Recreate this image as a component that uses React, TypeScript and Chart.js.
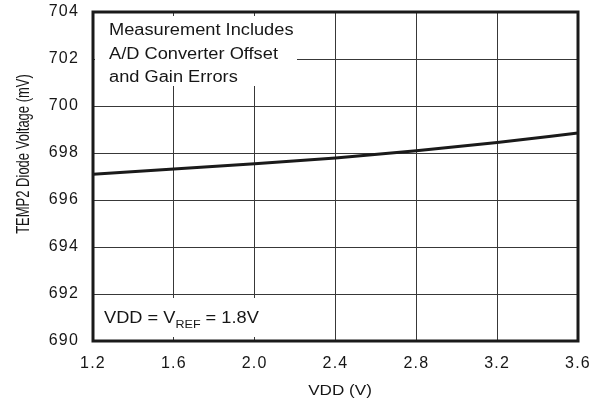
import React, { useEffect, useRef } from "react";
import { Chart, registerables } from "chart.js";

Chart.register(...registerables);

const vdd = [1.2, 1.6, 2.0, 2.4, 2.8, 3.2, 3.6];
const diodeMv = [697.1, 697.32, 697.54, 697.79, 698.1, 698.45, 698.85];
const xRange = [1.2, 3.6];
const xStep = 0.4;
const yRange = [690, 704];
const yStep = 2;
const noteLines = ["Measurement Includes", "A/D Converter Offset", "and Gain Errors"];
const condMain = "VDD = V";
const condSub = "REF";
const condTail = " = 1.8V";
const xTitle = "VDD (V)";
const yTitle = "TEMP2 Diode Voltage (mV)";

const FAMILY = "'Liberation Sans', Arial, Helvetica, sans-serif";
const TEXT = "#161616";
const SX = 1.14;
const TICK_SIZE = 16;

function drawStretched(ctx: CanvasRenderingContext2D, text: string, x: number, y: number, size: number, align: CanvasTextAlign) {
  ctx.save();
  ctx.translate(x, y);
  ctx.scale(SX, 1);
  ctx.font = `${size}px ${FAMILY}`;
  ctx.textAlign = align;
  ctx.textBaseline = "middle";
  ctx.fillStyle = TEXT;
  ctx.fillText(text, 0, 0);
  ctx.restore();
}

const decorPlugin = {
  id: "decor",
  beforeDraw(chart: any) {
    const ctx = chart.ctx as any;
    if ("letterSpacing" in ctx) ctx.letterSpacing = "1.2px";
  },
  beforeDatasetsDraw(chart: any) {
    const ctx = chart.ctx as CanvasRenderingContext2D;
    ctx.save();
    ctx.fillStyle = "#fff";
    ctx.fillRect(95, 16, 202, 70);
    ctx.fillRect(95, 298, 180, 39);
    ctx.restore();
  },
  afterDatasetsDraw(chart: any) {
    const ctx = chart.ctx as any;
    const a = chart.chartArea;
    ctx.save();
    if ("letterSpacing" in ctx) ctx.letterSpacing = "0px";
    ctx.lineWidth = 3;
    ctx.strokeStyle = "#1a1a1a";
    ctx.strokeRect(a.left, a.top, a.right - a.left, a.bottom - a.top);

    noteLines.forEach((t, i) => drawStretched(ctx, t, 109, 31 + i * 23.3, 16, "left"));

    ctx.font = `16px ${FAMILY}`;
    const w1 = ctx.measureText(condMain).width * SX;
    ctx.font = `11px ${FAMILY}`;
    const w2 = ctx.measureText(condSub).width * SX;
    drawStretched(ctx, condMain, 104, 319, 16, "left");
    drawStretched(ctx, condSub, 104 + w1, 325, 11, "left");
    drawStretched(ctx, condTail, 104 + w1 + w2, 319, 16, "left");

    drawStretched(ctx, xTitle, 340, 391, 15, "center");
    ctx.save();
    ctx.translate(24, 154);
    ctx.scale(1.35, 1);
    ctx.rotate(-Math.PI / 2);
    ctx.font = `13px ${FAMILY}`;
    ctx.textAlign = "center";
    ctx.textBaseline = "middle";
    ctx.fillStyle = TEXT;
    ctx.fillText(yTitle, 0, 0);
    ctx.restore();
    ctx.restore();
  },
};

export default function App() {
  const ref = useRef<HTMLCanvasElement>(null);
  useEffect(() => {
    if (!ref.current) return;
    const chart = new Chart(ref.current, {
      type: "line",
      data: {
        datasets: [
          {
            data: vdd.map((x, i) => ({ x, y: diodeMv[i] })),
            borderColor: "#1a1a1a",
            borderWidth: 3,
            pointRadius: 0,
            cubicInterpolationMode: "monotone",
            fill: false,
          },
        ],
      },
      options: {
        animation: false,
        responsive: true,
        maintainAspectRatio: false,
        layout: { padding: { top: 12, right: 23, left: 0, bottom: 0 } },
        plugins: { legend: { display: false }, tooltip: { enabled: false } },
        scales: {
          x: {
            type: "linear",
            min: xRange[0],
            max: xRange[1],
            afterFit: (s: any) => {
              s.height = 63;
              s.paddingLeft = 0;
              s.paddingRight = 0;
            },
            ticks: {
              stepSize: xStep,
              callback: (v: any) => Number(v).toFixed(1),
              font: { size: TICK_SIZE, family: FAMILY },
              color: TEXT,
              padding: 13,
              maxRotation: 0,
            },
            grid: { color: "#383838", lineWidth: 1, drawTicks: false },
            border: { display: false },
          },
          y: {
            min: yRange[0],
            max: yRange[1],
            afterFit: (s: any) => {
              s.width = 93;
              s.paddingTop = 0;
              s.paddingBottom = 0;
            },
            ticks: {
              stepSize: yStep,
              font: { size: TICK_SIZE, family: FAMILY },
              color: TEXT,
              padding: 14,
            },
            grid: { color: "#383838", lineWidth: 1, drawTicks: false },
            border: { display: false },
          },
        },
      },
      plugins: [decorPlugin],
    } as any);
    return () => chart.destroy();
  }, []);
  return (
    <div style={{ position: "fixed", left: 0, top: 0, width: 601, height: 404, background: "#fff" }}>
      <canvas ref={ref} />
    </div>
  );
}
